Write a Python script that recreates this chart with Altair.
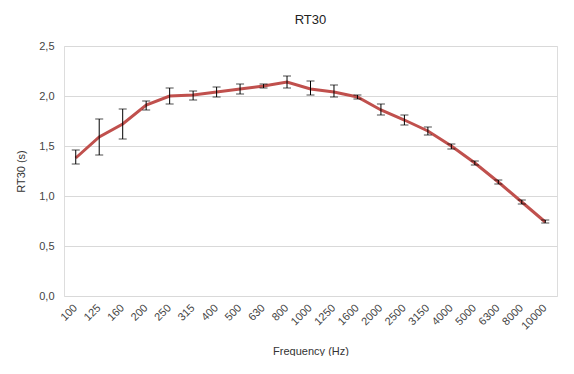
import altair as alt
import pandas as pd

freqs = ["100", "125", "160", "200", "250", "315", "400", "500", "630", "800", "1000",
         "1250", "1600", "2000", "2500", "3150", "4000", "5000", "6300", "8000", "10000"]
rt30 = [1.38, 1.59, 1.72, 1.91, 2.00, 2.01, 2.04, 2.07, 2.10, 2.14, 2.07,
        2.04, 1.99, 1.86, 1.76, 1.65, 1.50, 1.33, 1.14, 0.94, 0.74]
err_hi = [1.46, 1.77, 1.87, 1.95, 2.08, 2.05, 2.09, 2.12, 2.12, 2.20, 2.15,
          2.11, 2.01, 1.92, 1.81, 1.69, 1.52, 1.35, 1.16, 0.96, 0.76]
err_lo = [1.32, 1.41, 1.57, 1.86, 1.92, 1.96, 1.99, 2.02, 2.08, 2.08, 2.01,
          1.99, 1.97, 1.81, 1.71, 1.61, 1.47, 1.31, 1.12, 0.92, 0.73]

df = pd.DataFrame({"freq": freqs, "rt30": rt30, "hi": err_hi, "lo": err_lo})

FONT = "Liberation Sans"

x = alt.X("freq:N", sort=freqs, title="Frequency (Hz)",
          axis=alt.Axis(labelAngle=-45, labelAlign="right", labelBaseline="middle",
                        labelFontSize=11, labelColor="#444444",
                        titleFontSize=11, titleFontWeight="normal", titleColor="#333333",
                        titlePadding=14, domain=False, ticks=False, grid=False,
                        labelPadding=10, labelFont=FONT, titleFont=FONT))
y_scale = alt.Scale(domain=[0, 2.5])
y = alt.Y("rt30:Q", scale=y_scale, title="RT30 (s)",
          axis=alt.Axis(values=[0, 0.5, 1.0, 1.5, 2.0, 2.5],
                        labelExpr="replace(format(datum.value, '.1f'), '.', ',')",
                        labelFontSize=11, labelColor="#444444", labelPadding=10,
                        titleFontSize=11, titleFontWeight="normal", titleColor="#333333",
                        titlePadding=12, domain=False, ticks=False,
                        gridColor="#d9d9d9", gridWidth=1, labelFont=FONT, titleFont=FONT))

base = alt.Chart(df)

line = base.mark_line(color="#c0504d", strokeWidth=3).encode(x=x, y=y)
rule = base.mark_rule(color="#000000", strokeWidth=1).encode(
    x=alt.X("freq:N", sort=freqs), y=alt.Y("lo:Q", scale=y_scale), y2="hi:Q")
cap_hi = base.mark_tick(color="#000000", thickness=1, size=8, orient="horizontal").encode(
    x=alt.X("freq:N", sort=freqs), y=alt.Y("hi:Q", scale=y_scale))
cap_lo = base.mark_tick(color="#000000", thickness=1, size=8, orient="horizontal").encode(
    x=alt.X("freq:N", sort=freqs), y=alt.Y("lo:Q", scale=y_scale))

chart = alt.layer(line, rule, cap_hi, cap_lo).properties(
    width=493, height=250,
    title=alt.TitleParams("RT30", fontSize=13, fontWeight="normal", color="#222222",
                          font=FONT, offset=13, anchor="middle"),
    autosize=alt.AutoSizeParams(type="none"),
    padding={"left": 56, "top": 38, "right": 8, "bottom": 60},
).configure_view(stroke=None).configure(background="white")

chart.save("out.html", embed_options={"renderer": "svg", "actions": False})
